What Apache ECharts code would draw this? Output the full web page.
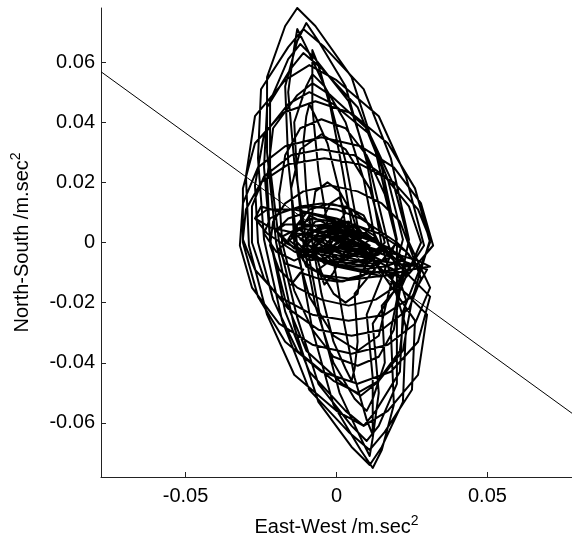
<!DOCTYPE html>
<html>
<head>
<meta charset="utf-8">
<script src="https://cdn.jsdelivr.net/npm/echarts@6/dist/echarts.min.js"></script>
<style>
html,body{margin:0;padding:0;background:#fff;}
#chart{width:572px;height:545px;}
</style>
</head>
<body>
<div id="chart"></div>
<script>
// Acceleration orbit, values in units of 0.001 m/s^2
const eastWestMilli = [
  8,5,1,-3,-7,-8,-8,-5,-1,3,7,8,
  16,11,3,-5,-12,-15,-14,-9,-1,7,14,17,
  22,17,10,-2,-8,-13,-21,-23,-22,-17,-10,2,8,13,21,23,
  17,11,4,-7,-12,-16,-22,-22,-19,-13,-6,5,10,14,20,20,
  20,13,5,-7,-13,-17,-23,-23,-20,-14,-6,5,11,15,22,23,
  15,10,3,-6,-10,-13,-17,-16,-13,-8,-1,8,12,15,19,18,
  24,18,9,-4,-11,-16,-25,-26,-24,-18,-9,4,11,16,25,26,
  8,3,-3,-10,-13,-14,-16,-14,-10,-5,1,8,11,12,14,12,
  29,23,14,0,-9,-17,-27,-30,-29,-23,-14,0,9,17,27,30,
  6,2,-2,-6,-8,-8,-8,-6,-2,2,6,10,12,12,12,10,
  20,15,7,-5,-11,-15,-23,-24,-22,-17,-9,3,9,13,21,22,
  31,26,17,5,-7,-18,-27,-31,-31,-26,-17,-5,7,18,27,31,
  13,9,3,-4,-8,-10,-14,-13,-11,-7,-1,6,10,12,16,15,
  32,28,19,8,-5,-17,-26,-31,-32,-28,-19,-8,5,17,26,31,
  24,19,11,-1,-9,-16,-24,-27,-26,-21,-13,-1,7,14,22,25,
  31,27,19,8,-4,-16,-25,-30,-31,-27,-19,-8,4,16,25,30,
  4,1,-3,-7,-9,-10,-11,-10,-8,-5,-1,3,5,6,7,6,
  20,16,10,3,-5,-12,-17,-19,-18,-14,-8,-1,7,14,19,21,
  28,24,16,6,-5,-15,-24,-28,-28,-24,-16,-6,5,15,24,28,
  24,21,15,7,-2,-11,-17,-21,-22,-19,-13,-5,4,13,19,23,
  14,11,5,-2,-9,-13,-14,-11,-5,2,9,13,
  27,23,14,0,-14,-23,-27,-23,-14,0,14,23,
  24,21,13,2,-9,-17,-20,-17,-9,2,13,21,
  -3,5,10,4,-6,-12,-8,2,9,14, 8,-1,-9,-14,-10,-2,6,11,6,-2,
  -7,-4,3,7,3,-4,-11,-15,-12,-5, 2,9,15,12,4,-3,-8,-6,0,6,
  12,16,10,2,-5,-10,-7,0,5,1, -3,-9,-13,-9,-1,7,13,9,1,-4,
  -1,4,-2,-8,-13,-16,-11,-3,5,11, 15,10,3,-4,-8,-4,3,8,4,-2,
  -6,-2,6,12,6,-2,-7,-11,-6,1, 8,13,8,0,-7,-12,-9,-3,3,0,
  -5,-2,3,1,
  12,6,-4,-12,-18,-14,-5,4,12,18, 14,5,-3,-10,-16,-20,-15,-8,0,8,
  16,22,18,8,-2,-8,-11,-6,2,6, 2,-4,-2,1,3,-1,-6,-10,-14,-20,
  -24,-22,-16,-8,0,8,14,20,24,26, 20,12,4,-4,-10,-12,-7,0,5,3,
  -2,-6,-4,-1,2,7,11,9,3,-5, -12,-18,-25,-27,-22,-13,-4,4,12,20,
  27,31,25,16,8,0,-6,-12,-15,-11, -17,-19,-14,-6,2,9,15,10,3,-3,
  -5,-1,4,8,5,0,-4,-2,2,1, -1,0
];
const northSouthMilli = [
  0,10,17,20,17,10,0,-10,-17,-20,-17,-10,
  0,18,31,36,31,18,0,-18,-31,-36,-31,-18,
  1,21,38,49,53,49,38,21,1,-19,-36,-47,-51,-47,-36,-19,
  0,25,47,61,66,61,47,25,0,-25,-47,-61,-66,-61,-47,-25,
  0,30,55,72,78,72,55,30,0,-28,-53,-68,-74,-68,-53,-28,
  -1,27,52,67,73,67,52,27,-1,-29,-54,-69,-75,-69,-54,-29,
  1,28,51,65,71,65,51,28,1,-26,-49,-63,-69,-63,-49,-26,
  0,27,50,65,71,65,50,27,0,-27,-50,-65,-71,-65,-50,-27,
  -1,22,42,54,59,54,42,22,-1,-24,-44,-56,-61,-56,-44,-24,
  0,24,45,59,64,59,45,24,0,-24,-45,-59,-64,-59,-45,-24,
  1,25,45,58,63,58,45,25,1,-23,-43,-56,-61,-56,-43,-23,
  0,18,33,43,47,43,33,18,0,-18,-33,-43,-47,-43,-33,-18,
  0,21,40,52,56,52,40,21,0,-21,-40,-52,-56,-52,-40,-21,
  -1,13,25,32,35,32,25,13,-1,-15,-27,-34,-37,-34,-27,-15,
  0,19,36,46,50,46,36,19,0,-19,-36,-46,-50,-46,-36,-19,
  1,11,20,26,28,26,20,11,1,-9,-18,-24,-26,-24,-18,-9,
  0,17,33,42,46,42,33,17,0,-17,-33,-42,-46,-42,-33,-17,
  0,16,29,38,41,38,29,16,0,-16,-29,-38,-41,-38,-29,-16,
  0,12,22,29,31,29,22,12,0,-12,-22,-29,-31,-29,-22,-12,
  -1,7,13,17,19,17,13,7,-1,-9,-15,-19,-21,-19,-15,-9,
  0,6,11,13,11,6,0,-6,-11,-13,-11,-6,
  -8,-3,3,8,11,11,8,3,-3,-8,-11,-11,
  -8,-4,0,4,6,6,4,0,-4,-8,-10,-10,
  2,1,-3,-5,-3,1,4,3,0,-4, -6,-4,-1,3,6,5,2,-1,-4,-2,
  2,6,7,3,-1,-3,-2,2,5,3, 0,-3,-6,-8,-7,-6,-2,3,5,5,
  1,-2,-5,-4,-1,3,7,8,4,-1, -5,-6,-3,1,2,-1,-5,-8,-8,-4,
  1,4,7,8,6,1,-3,-1,-2,-4, -1,3,4,2,-3,-7,-6,-2,1,3,
  0,-3,-3,-6,-8,-7,-5,0,5,6, 5,2,-1,-2,1,4,9,6,2,-3,
  -2,1,0,-2,
  -4,3,6,5,2,-2,-4,-6,-7,-5, 0,4,8,10,8,4,-1,-5,-8,-9,
  -8,-6,-2,2,5,4,0,-3,-2,2, 6,9,13,15,10,4,0,-4,-6,-3,
  3,8,11,12,11,8,4,0,-4,-7, -9,-10,-12,-11,-8,-3,2,3,-1,-5,
  -6,-9,-14,-10,-4,0,5,9,12,13, 12,10,12,8,5,3,2,0,-2,-4,
  -6,-8,-9,-11,-12,-13,-12,-10,-14,-9, -7,-2,2,4,2,-1,-3,-6,-7,-3,
  2,6,7,4,0,-2,1,4,3,0, -1,0
];
// principal-direction line
const refLineEW = [-0.078, 0.078];
const refLineNS = [0.0568, -0.0568];
// axis ticks
const xTicks = [-0.05, 0, 0.05];
const yTicks = [-0.06, -0.04, -0.02, 0, 0.02, 0.04, 0.06];

const n = Math.min(eastWestMilli.length, northSouthMilli.length);
const orbit = [];
for (let i = 0; i < n; i++) orbit.push([eastWestMilli[i] / 1000, northSouthMilli[i] / 1000]);
const refLine = refLineEW.map((x, i) => [x, refLineNS[i]]);

const FONT = '"Liberation Sans", Arial, Helvetica, sans-serif';
const fmt = v => (Math.abs(v) < 1e-12 ? '0' : String(+v.toFixed(4)));

const chart = echarts.init(document.getElementById('chart'), null, {renderer: 'canvas'});
chart.setOption({
  animation: false,
  backgroundColor: '#fff',
  grid: {left: 101, right: 0, top: 8, bottom: 68, containLabel: false},
  xAxis: {
    type: 'value', min: -0.078, max: 0.078,
    name: '{a|East-West /m.sec}{s|2}', nameLocation: 'middle', nameGap: 37,
    nameTextStyle: {rich: {
      a: {fontFamily: FONT, fontSize: 20, color: '#000', lineHeight: 26},
      s: {fontFamily: FONT, fontSize: 14, color: '#000', lineHeight: 26, verticalAlign: 'top', padding: [0, 0, 12, 0]}
    }},
    axisLine: {show: true, onZero: false, lineStyle: {color: '#222', width: 1}},
    axisTick: {show: true, inside: true, length: 5, customValues: xTicks, lineStyle: {color: '#222'}},
    axisLabel: {customValues: xTicks, formatter: fmt, fontFamily: FONT, fontSize: 20, color: '#000', margin: 9},
    splitLine: {show: false}
  },
  yAxis: {
    type: 'value', min: -0.078, max: 0.078,
    name: '{a|North-South /m.sec}{s|2}', nameLocation: 'middle', nameGap: 66, nameRotate: 90,
    nameTextStyle: {rich: {
      a: {fontFamily: FONT, fontSize: 20, color: '#000', lineHeight: 26},
      s: {fontFamily: FONT, fontSize: 14, color: '#000', lineHeight: 26, verticalAlign: 'top', padding: [0, 0, 12, 0]}
    }},
    axisLine: {show: true, onZero: false, lineStyle: {color: '#222', width: 1}},
    axisTick: {show: true, inside: true, length: 5, customValues: yTicks, lineStyle: {color: '#222'}},
    axisLabel: {customValues: yTicks, formatter: fmt, fontFamily: FONT, fontSize: 20, color: '#000', margin: 6},
    splitLine: {show: false}
  },
  series: [
    {type: 'line', data: orbit, showSymbol: false, smooth: false, clip: true,
     lineStyle: {color: '#000', width: 2, join: 'round'}},
    {type: 'line', data: refLine, showSymbol: false, clip: true,
     lineStyle: {color: '#000', width: 1}}
  ]
});
</script>
</body>
</html>
